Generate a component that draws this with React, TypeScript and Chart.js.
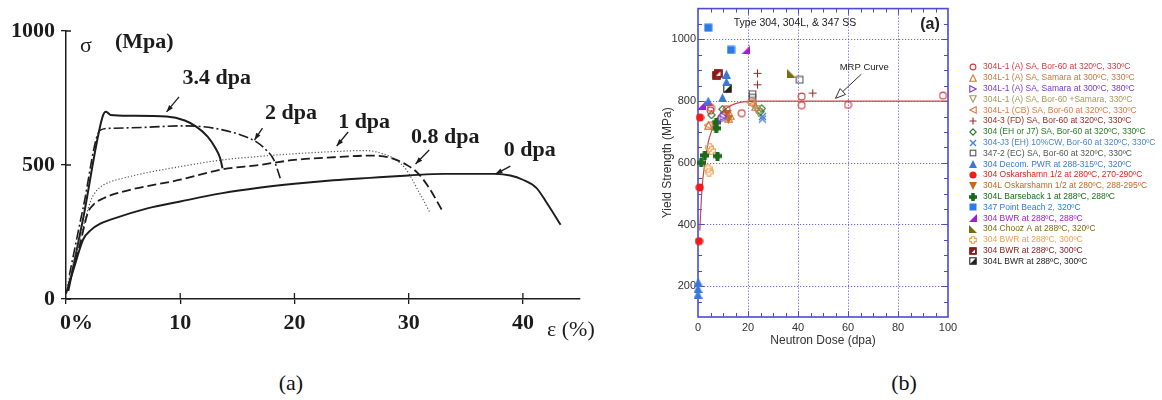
import React, { useEffect, useRef } from 'react';
import { Chart, registerables } from 'chart.js';
Chart.register(...registerables);

const INK = '#1c1c1c';
const SERIF = '"Liberation Serif", "Times New Roman", serif';
const SANS = '"Liberation Sans", Arial, sans-serif';

// ---------------- Panel (a): stress-strain curves ----------------
const strainTicks = [0, 10, 20, 30, 40];
const stressTicks = [0, 500, 1000];

const strain0dpa = [0, 0.8, 1.5, 2.2, 3.0, 3.9, 7.2, 10, 13.7, 16.9, 20, 23.4, 26.6, 30, 33.1, 37.6, 38.9, 40, 41.2, 42.1, 43.3];
const stress0dpa = [20, 130, 222, 258, 281, 296, 339, 364, 395, 415, 430, 443, 452, 461, 467, 467, 461, 445, 414, 358, 277];

const strain08dpa = [0.2, 1.2, 1.9, 2.4, 3.3, 5.6, 10, 13.7, 16.9, 20, 23.4, 26.6, 28.2, 29.8, 30.8, 31.8, 32.9];
const stress08dpa = [50, 200, 320, 352, 376, 407, 445, 484, 500, 519, 529, 535, 529, 501, 470, 414, 333];

const strain1dpa = [0.1, 1.2, 2.2, 2.7, 3.3, 5.6, 10, 13.7, 16.9, 20, 23.4, 26.2, 27.6, 28.9, 29.8, 30.8, 31.9];
const stress1dpa = [50, 220, 370, 405, 426, 457, 494, 519, 532, 542, 550, 554, 544, 519, 482, 407, 320];

const strain2dpa = [0.3, 1.5, 3.0, 3.9, 7.2, 10, 12, 13.7, 15.3, 16.6, 17.5, 18.2, 18.8];
const stress2dpa = [90, 340, 630, 637, 641, 646, 643, 631, 612, 588, 557, 519, 445];

const strain34dpa = [0.2, 1.5, 3.2, 3.5, 3.9, 5.6, 8.8, 10.4, 11.4, 12.4, 13.0, 13.5, 13.7];
const stress34dpa = [30, 300, 680, 699, 687, 684, 681, 666, 643, 606, 569, 525, 488];

const noteText = ['3.4 dpa', '2 dpa', '1 dpa', '0.8 dpa', '0 dpa'];
const noteStrain = [13.2, 19.7, 26.1, 33.2, 40.6];
const noteStress = [825, 694, 660, 604, 556];
const arrowFromStrain = [9.9, 17.2, 24.7, 31.8, 38.9];
const arrowFromStress = [754, 638, 623, 556, 496];
const arrowToStrain = [8.8, 16.5, 23.7, 30.6, 37.6];
const arrowToStress = [698, 593, 571, 504, 466];

const LEFT_CURVES = [
  { label: '0 dpa', xs: strain0dpa, ys: stress0dpa, dash: [] as number[], width: 1.9, color: INK },
  { label: '0.8 dpa', xs: strain08dpa, ys: stress08dpa, dash: [9, 4], width: 1.8, color: INK },
  { label: '1 dpa', xs: strain1dpa, ys: stress1dpa, dash: [1.2, 2], width: 1.2, color: '#555' },
  { label: '2 dpa', xs: strain2dpa, ys: stress2dpa, dash: [10, 3, 2, 3], width: 1.6, color: INK },
  { label: '3.4 dpa', xs: strain34dpa, ys: stress34dpa, dash: [] as number[], width: 2, color: INK },
];

// ---------------- Panel (b): yield strength vs dose ----------------
const doseTicks = [0, 20, 40, 60, 80, 100];
const yieldTicks = [200, 400, 600, 800, 1000];

const doseA_Bor = [5.0, 5.2, 11.5, 17.5, 41.5, 41.5, 60, 98];
const ysA_Bor = [770, 778, 774, 761, 815, 787, 788, 818];
const doseA_Sam330 = [4.2, 12.3, 13.0, 23.0];
const ysA_Sam330 = [722, 745, 752, 782];
const doseA_Sam380 = [9.8, 10.4];
const ysA_Sam380 = [742, 750];
const doseA_BorSam = [23.5, 24.2];
const ysA_BorSam = [772, 764];
const doseCB = [4.0, 20.8, 21.6];
const ysCB = [722, 797, 789];
const doseFD = [23.8, 23.8, 45.9];
const ysFD = [890, 853, 826];
const doseEH = [5.4, 9.8, 25.5, 25.0];
const ysEH = [755, 774, 776, 766];
const doseJ3 = [25.8, 25.8];
const ysJ3 = [742, 750];
const doseEC = [21.8, 21.8, 40.7];
const ysEC = [823, 811, 869];
const doseDecom = [0.1, 0, 0, 4.1, 9.8, 11.4, 11.4];
const ysDecom = [213, 193, 174, 800, 811, 887, 862];
const doseOsk = [0.8, 0.7, 0.4];
const ysOsk = [747, 520, 346];
const doseOskL = [11.6, 12.2];
const ysOskL = [758, 740];
const doseBars = [1.3, 2.7, 7.3, 7.3, 7.8];
const ysBars = [600, 624, 731, 712, 622];
const dosePB = [4.1, 13.2];
const ysPB = [1038, 966];
const doseBWR288 = [1.4, 19.1];
const ysBWR288 = [786, 966];
const doseChooz = [37.2];
const ysChooz = [891];
const doseBWR300o = [4.7, 5.4, 4.0, 4.4];
const ysBWR300o = [650, 640, 581, 570];
const doseBWR300r = [7.4, 8.0];
const ysBWR300r = [884, 890];
const doseBWRL = [11.8];
const ysBWRL = [841];

const mrpDose = [0.7, 1.2, 1.7, 2.5, 3.2, 4.2, 5.5, 7, 9, 12, 15, 20, 25, 100];
const mrpYield = [380, 460, 527, 585, 625, 670, 705, 735, 760, 780, 792, 799, 800, 800];

const SERIES = [
  { label: '304L-1 (A) SA, Bor-60 at 320ºC, 330ºC', color: '#d83a3a', marker: 'circleOpen', dose: doseA_Bor, ys: ysA_Bor },
  { label: '304L-1 (A) SA, Samara at 300ºC, 330ºC', color: '#c8783c', marker: 'triOpen', dose: doseA_Sam330, ys: ysA_Sam330 },
  { label: '304L-1 (A) SA, Samara at 300ºC, 380ºC', color: '#7a3ad0', marker: 'triRightOpen', dose: doseA_Sam380, ys: ysA_Sam380 },
  { label: '304L-1 (A) SA, Bor-60 +Samara, 330ºC', color: '#a09a5a', marker: 'triDownOpen', dose: doseA_BorSam, ys: ysA_BorSam },
  { label: '304L-1 (CB) SA, Bor-60 at 320ºC, 330ºC', color: '#e07a40', marker: 'triLeftOpen', dose: doseCB, ys: ysCB },
  { label: '304-3 (FD) SA, Bor-60 at 320ºC, 330ºC', color: '#9a2a2a', marker: 'plus', dose: doseFD, ys: ysFD },
  { label: '304 (EH or J7) SA, Bor-60 at 320ºC, 330ºC', color: '#2a7a2a', marker: 'diamondOpen', dose: doseEH, ys: ysEH },
  { label: '304-J3 (EH) 10%CW, Bor-60 at 320ºC, 330ºC', color: '#4a80d8', marker: 'x', dose: doseJ3, ys: ysJ3 },
  { label: '347-2 (EC) SA, Bor-60 at 320ºC, 330ºC', color: '#555555', marker: 'squareOpen', dose: doseEC, ys: ysEC },
  { label: '304 Decom. PWR at 288-315ºC, 320ºC', color: '#3a78d8', marker: 'triFilled', dose: doseDecom, ys: ysDecom },
  { label: '304 Oskarshamn 1/2 at 280ºC, 270-290ºC', color: '#ee1c1c', marker: 'circleFilled', dose: doseOsk, ys: ysOsk },
  { label: '304L Oskarshamn 1/2 at 280ºC, 288-295ºC', color: '#c06a1a', marker: 'triDownFilled', dose: doseOskL, ys: ysOskL },
  { label: '304L Barseback 1 at 288ºC, 288ºC', color: '#1a6a1a', marker: 'plusFilled', dose: doseBars, ys: ysBars },
  { label: '347 Point Beach 2, 320ºC', color: '#2a7ae8', marker: 'squareFilled', dose: dosePB, ys: ysPB },
  { label: '304 BWR at 288ºC, 288ºC', color: '#a020d0', marker: 'wedgeBR', dose: doseBWR288, ys: ysBWR288 },
  { label: '304 Chooz A at 288ºC, 320ºC', color: '#7a6a10', marker: 'wedgeBL', dose: doseChooz, ys: ysChooz },
  { label: '304 BWR at 288ºC, 300ºC', color: '#f0a050', marker: 'plusOpen', dose: doseBWR300o, ys: ysBWR300o },
  { label: '304 BWR at 288ºC, 300ºC', color: '#8a1a1a', marker: 'squareHalfRed', dose: doseBWR300r, ys: ysBWR300r },
  { label: '304L BWR at 288ºC, 300ºC', color: '#222222', marker: 'squareHalfBlack', dose: doseBWRL, ys: ysBWRL },
];

function makeMarker(kind: string, color: string, s: number): HTMLCanvasElement {
  const c = document.createElement('canvas');
  c.width = s;
  c.height = s;
  const g = c.getContext('2d')!;
  g.strokeStyle = color;
  g.fillStyle = color;
  g.lineWidth = 1.1;
  const a = 0.8, b = s - 0.8, m = s / 2;
  const poly = (pts: number[][], fill: boolean) => {
    g.beginPath();
    g.moveTo(pts[0][0], pts[0][1]);
    for (let i = 1; i < pts.length; i++) g.lineTo(pts[i][0], pts[i][1]);
    g.closePath();
    if (fill) g.fill(); else g.stroke();
  };
  const cross = (t: number, inset: number) => {
    const lo = inset, hi = s - inset;
    return [[m - t, lo], [m + t, lo], [m + t, m - t], [hi, m - t], [hi, m + t], [m + t, m + t], [m + t, hi], [m - t, hi], [m - t, m + t], [lo, m + t], [lo, m - t], [m - t, m - t]];
  };
  switch (kind) {
    case 'circleOpen': g.beginPath(); g.arc(m, m, m - 1.1, 0, Math.PI * 2); g.stroke(); break;
    case 'circleFilled': g.beginPath(); g.arc(m, m, m - 0.4, 0, Math.PI * 2); g.fill(); break;
    case 'triOpen': poly([[m, a], [b, b], [a, b]], false); break;
    case 'triFilled': poly([[m, 0], [s, s], [0, s]], true); break;
    case 'triRightOpen': poly([[a, a], [b, m], [a, b]], false); break;
    case 'triDownOpen': poly([[a, a], [b, a], [m, b]], false); break;
    case 'triDownFilled': poly([[0, 0], [s, 0], [m, s]], true); break;
    case 'triLeftOpen': poly([[b, a], [a, m], [b, b]], false); break;
    case 'plus':
      g.beginPath(); g.moveTo(m, 0.5); g.lineTo(m, s - 0.5); g.moveTo(0.5, m); g.lineTo(s - 0.5, m); g.stroke(); break;
    case 'x':
      g.lineWidth = 1.4;
      g.beginPath(); g.moveTo(1, 1); g.lineTo(s - 1, s - 1); g.moveTo(s - 1, 1); g.lineTo(1, s - 1); g.stroke(); break;
    case 'diamondOpen': poly([[m, a], [b, m], [m, b], [a, m]], false); break;
    case 'squareOpen': g.strokeRect(1.2, 1.2, s - 2.4, s - 2.4); break;
    case 'squareFilled': g.fillRect(0.5, 0.5, s - 1, s - 1); break;
    case 'wedgeBR': poly([[s, 0], [s, s], [0, s]], true); break;
    case 'wedgeBL': poly([[0, 0], [0, s], [s, s]], true); break;
    case 'plusFilled':
      poly(cross(s * 0.22, 0), true);
      g.beginPath(); g.arc(m, m, s * 0.32, 0, Math.PI * 2); g.fill(); break;
    case 'plusOpen': poly(cross(s * 0.2, 0.7), false); break;
    case 'squareHalfRed':
      g.fillRect(0.5, 0.5, s - 1, s - 1);
      g.fillStyle = '#ffffff';
      poly([[s - 2, 2.5], [s - 2, s - 2], [2.5, s - 2]], true);
      g.strokeRect(0.8, 0.8, s - 1.6, s - 1.6);
      break;
    case 'squareHalfBlack':
      g.strokeRect(0.8, 0.8, s - 1.6, s - 1.6);
      poly([[s - 0.8, 0.8], [s - 0.8, s - 0.8], [0.8, s - 0.8]], true);
      break;
  }
  return c;
}

function drawArrow(ctx: CanvasRenderingContext2D, x0: number, y0: number, x1: number, y1: number, head: number, width: number, open: boolean) {
  const ang = Math.atan2(y1 - y0, x1 - x0);
  const bx = x1 - head * Math.cos(ang);
  const by = y1 - head * Math.sin(ang);
  ctx.beginPath();
  ctx.moveTo(x0, y0);
  if (open) ctx.lineTo(bx, by); else ctx.lineTo(x1, y1);
  ctx.stroke();
  const w = width / 2;
  ctx.beginPath();
  ctx.moveTo(x1, y1);
  ctx.lineTo(bx + w * Math.sin(ang), by - w * Math.cos(ang));
  ctx.lineTo(bx - w * Math.sin(ang), by + w * Math.cos(ang));
  ctx.closePath();
  if (open) ctx.stroke(); else ctx.fill();
}

export default function App() {
  const leftRef = useRef<HTMLCanvasElement>(null);
  const rightRef = useRef<HTMLCanvasElement>(null);

  useEffect(() => {
    // ---------- left chart ----------
    const leftDecor = {
      id: 'leftDecor',
      afterDraw(chart: any) {
        const { ctx, chartArea, scales } = chart;
        const x = scales.x, y = scales.y;
        ctx.save();
        ctx.strokeStyle = INK;
        ctx.fillStyle = INK;
        ctx.lineWidth = 1.3;
        ctx.beginPath();
        for (const v of stressTicks) {
          const py = y.getPixelForValue(v);
          ctx.moveTo(chartArea.left, py);
          ctx.lineTo(chartArea.left + 5, py);
        }
        for (const v of strainTicks) {
          if (v === 0) continue;
          const px = x.getPixelForValue(v);
          ctx.moveTo(px, chartArea.bottom);
          ctx.lineTo(px, chartArea.bottom - 6);
        }
        ctx.stroke();
        // first strain tick label: "0" sits on the axis, "%" follows it
        ctx.textBaseline = 'middle';
        ctx.textAlign = 'left';
        ctx.font = `bold 22px ${SERIF}`;
        ctx.fillText('0%', x.getPixelForValue(0) - 6, chartArea.bottom + 24);
        // axis names
        ctx.font = `22px ${SERIF}`;
        ctx.fillText('σ', chartArea.left + 14, chartArea.top + 15);
        ctx.font = `bold 22px ${SERIF}`;
        ctx.fillText('(Mpa)', chartArea.left + 49, chartArea.top + 11);
        ctx.font = `22px ${SERIF}`;
        ctx.fillText('ε (%)', chartArea.right - 33, chartArea.bottom + 31);
        // curve labels and arrows
        ctx.font = `bold 22px ${SERIF}`;
        ctx.textAlign = 'center';
        ctx.lineWidth = 1.3;
        noteText.forEach((t, i) => {
          ctx.fillText(t, x.getPixelForValue(noteStrain[i]), y.getPixelForValue(noteStress[i]));
          drawArrow(ctx,
            x.getPixelForValue(arrowFromStrain[i]), y.getPixelForValue(arrowFromStress[i]),
            x.getPixelForValue(arrowToStrain[i]), y.getPixelForValue(arrowToStress[i]), 7, 5, false);
        });
        ctx.restore();
      },
    };

    const c1 = new Chart(leftRef.current!, {
      type: 'line',
      data: {
        datasets: LEFT_CURVES.map((c) => ({
          label: c.label,
          data: c.xs.map((v, i) => ({ x: v, y: c.ys[i] })),
          borderColor: c.color,
          borderWidth: c.width,
          borderDash: c.dash,
          pointRadius: 0,
          fill: false,
          cubicInterpolationMode: 'monotone' as const,
        })),
      },
      options: {
        animation: false,
        responsive: false,
        events: [],
        layout: { padding: { left: 0, top: 31, right: 60, bottom: 0 } },
        plugins: { legend: { display: false }, tooltip: { enabled: false } },
        scales: {
          x: {
            type: 'linear',
            min: 0,
            max: 45,
            afterBuildTicks: (s: any) => { s.ticks = strainTicks.map((v) => ({ value: v })); },
            afterFit: (s: any) => { s.height = 51; },
            grid: { display: true, drawOnChartArea: false, drawTicks: true, tickLength: 5, color: INK, lineWidth: 1.3 },
            border: { display: true, color: INK, width: 1.5 },
            ticks: {
              font: { family: SERIF, size: 22, weight: 'bold' },
              color: INK,
              padding: 6,
              maxRotation: 0,
              callback: (v: any) => (v === 0 ? '' : String(v)),
            },
          },
          y: {
            type: 'linear',
            min: 0,
            max: 1000,
            afterBuildTicks: (s: any) => { s.ticks = stressTicks.map((v) => ({ value: v })); },
            afterFit: (s: any) => { s.width = 66; },
            grid: { display: true, drawOnChartArea: false, drawTicks: true, tickLength: 5, color: INK, lineWidth: 1.3 },
            border: { display: true, color: INK, width: 1.5 },
            ticks: {
              font: { family: SERIF, size: 22, weight: 'bold' },
              color: INK,
              padding: 6,
              callback: (v: any) => String(v),
            },
          },
        },
      },
      plugins: [leftDecor],
    } as any);

    // ---------- right chart ----------
    const markers = SERIES.map((s) => makeMarker(s.marker, s.color, 9));
    const legendMarkers = SERIES.map((s) => makeMarker(s.marker, s.color, 8));
    const BLUE = '#4c4cd0';

    const rightDecor = {
      id: 'rightDecor',
      beforeDatasetsDraw(chart: any) {
        const { ctx, chartArea: ca, scales } = chart;
        const x = scales.x, y = scales.y;
        ctx.save();
        ctx.strokeStyle = 'rgba(80,80,210,0.85)';
        ctx.lineWidth = 1;
        ctx.setLineDash([1.2, 1.8]);
        ctx.beginPath();
        for (const v of doseTicks) {
          if (v === 0 || v === 100) continue;
          const px = Math.round(x.getPixelForValue(v)) + 0.5;
          ctx.moveTo(px, ca.top);
          ctx.lineTo(px, ca.bottom);
        }
        for (const v of yieldTicks) {
          const py = Math.round(y.getPixelForValue(v)) + 0.5;
          ctx.moveTo(ca.left, py);
          ctx.lineTo(ca.right, py);
        }
        ctx.stroke();
        ctx.setLineDash([]);
        // minor ticks
        ctx.strokeStyle = BLUE;
        ctx.lineWidth = 1;
        ctx.beginPath();
        for (let v = 5; v < 100; v += 5) {
          const px = Math.round(x.getPixelForValue(v)) + 0.5;
          const len = v % 20 === 0 ? 6 : 4;
          ctx.moveTo(px, ca.bottom); ctx.lineTo(px, ca.bottom - len);
          ctx.moveTo(px, ca.top); ctx.lineTo(px, ca.top + len);
        }
        for (let v = 150; v < 1100; v += 50) {
          const py = Math.round(y.getPixelForValue(v)) + 0.5;
          const len = v % 200 === 0 ? 6 : 4;
          ctx.moveTo(ca.left, py); ctx.lineTo(ca.left + len, py);
          ctx.moveTo(ca.right, py); ctx.lineTo(ca.right - len, py);
        }
        ctx.stroke();
        ctx.lineWidth = 1.6;
        ctx.strokeRect(ca.left, ca.top, ca.right - ca.left, ca.bottom - ca.top);
        ctx.restore();
      },
      afterDraw(chart: any) {
        const { ctx, chartArea: ca, scales } = chart;
        const x = scales.x, y = scales.y;
        ctx.save();
        ctx.fillStyle = '#222';
        ctx.textBaseline = 'middle';
        ctx.textAlign = 'center';
        ctx.font = `10.5px ${SANS}`;
        ctx.fillText('Type 304, 304L, & 347 SS', x.getPixelForValue(38.8), y.getPixelForValue(1052));
        ctx.font = `bold 16px ${SANS}`;
        ctx.fillText('(a)', x.getPixelForValue(92.8), y.getPixelForValue(1048));
        ctx.font = `9.5px ${SANS}`;
        ctx.fillText('MRP Curve', x.getPixelForValue(66.5), y.getPixelForValue(910));
        ctx.strokeStyle = '#333';
        ctx.lineWidth = 1;
        drawArrow(ctx, x.getPixelForValue(65.3), y.getPixelForValue(887), x.getPixelForValue(55), y.getPixelForValue(809), 10, 8, true);
        // legend
        ctx.textAlign = 'left';
        ctx.font = `8.5px ${SANS}`;
        const lx = ca.right + 25;
        SERIES.forEach((s, i) => {
          const ly = 67 + i * 10.8;
          const m = legendMarkers[i];
          ctx.drawImage(m, Math.round(lx - m.width / 2), Math.round(ly - m.height / 2));
          ctx.fillStyle = s.color;
          ctx.fillText(s.label, lx + 10, ly);
        });
        ctx.restore();
      },
    };

    const pointSets = SERIES.map((s, i) => ({
      type: 'scatter',
      label: s.label,
      data: s.dose.map((d, j) => ({ x: d, y: s.ys[j] })),
      pointStyle: markers[i],
      pointRadius: 4.5,
      clip: false,
    }));
    const mrpSet = {
      type: 'line',
      label: 'MRP Curve',
      data: mrpDose.map((d, j) => ({ x: d, y: mrpYield[j] })),
      borderColor: '#c24a4a',
      borderWidth: 1.2,
      pointRadius: 0,
      fill: false,
      cubicInterpolationMode: 'monotone',
    };

    const tickFont = { family: SANS, size: 11 };
    const c2 = new Chart(rightRef.current!, {
      type: 'scatter',
      data: { datasets: [...pointSets, mrpSet] },
      options: {
        animation: false,
        responsive: false,
        events: [],
        layout: { padding: { left: 0, top: 8, right: 214, bottom: 0 } },
        plugins: { legend: { display: false }, tooltip: { enabled: false } },
        scales: {
          x: {
            type: 'linear',
            min: 0,
            max: 100,
            afterBuildTicks: (s: any) => { s.ticks = doseTicks.map((v) => ({ value: v })); },
            afterFit: (s: any) => { s.height = 33; },
            grid: { display: true, drawOnChartArea: false, drawTicks: false },
            border: { display: false },
            ticks: { font: tickFont, color: '#333', padding: 4, maxRotation: 0, callback: (v: any) => String(v) },
            title: { display: true, text: 'Neutron Dose (dpa)', font: { family: SANS, size: 12 }, color: '#333', padding: { top: 0, bottom: 2 } },
          },
          y: {
            type: 'linear',
            min: 100,
            max: 1100,
            afterBuildTicks: (s: any) => { s.ticks = yieldTicks.map((v) => ({ value: v })); },
            afterFit: (s: any) => { s.width = 58; },
            grid: { display: true, drawOnChartArea: false, drawTicks: false },
            border: { display: false },
            ticks: { font: tickFont, color: '#333', padding: 2, callback: (v: any) => String(v) },
            title: { display: true, text: 'Yield Strength (MPa)', font: { family: SANS, size: 12 }, color: '#333', padding: { top: 20, bottom: 0 } },
          },
        },
      },
      plugins: [rightDecor],
    } as any);

    return () => {
      c1.destroy();
      c2.destroy();
    };
  }, []);

  const caption: React.CSSProperties = {
    position: 'absolute',
    top: 370,
    width: 60,
    marginLeft: -30,
    textAlign: 'center',
    font: `22px ${SERIF}`,
    lineHeight: '26px',
    color: '#111',
  };

  return (
    <div style={{ position: 'absolute', left: 0, top: 0, width: 1162, height: 400, background: '#fff', overflow: 'hidden' }}>
      <canvas ref={leftRef} width={640} height={350} style={{ position: 'absolute', left: 0, top: 0 }} />
      <canvas ref={rightRef} width={522} height={350} style={{ position: 'absolute', left: 640, top: 0 }} />
      <div style={{ ...caption, left: 291 }}>(a)</div>
      <div style={{ ...caption, left: 904 }}>(b)</div>
    </div>
  );
}
